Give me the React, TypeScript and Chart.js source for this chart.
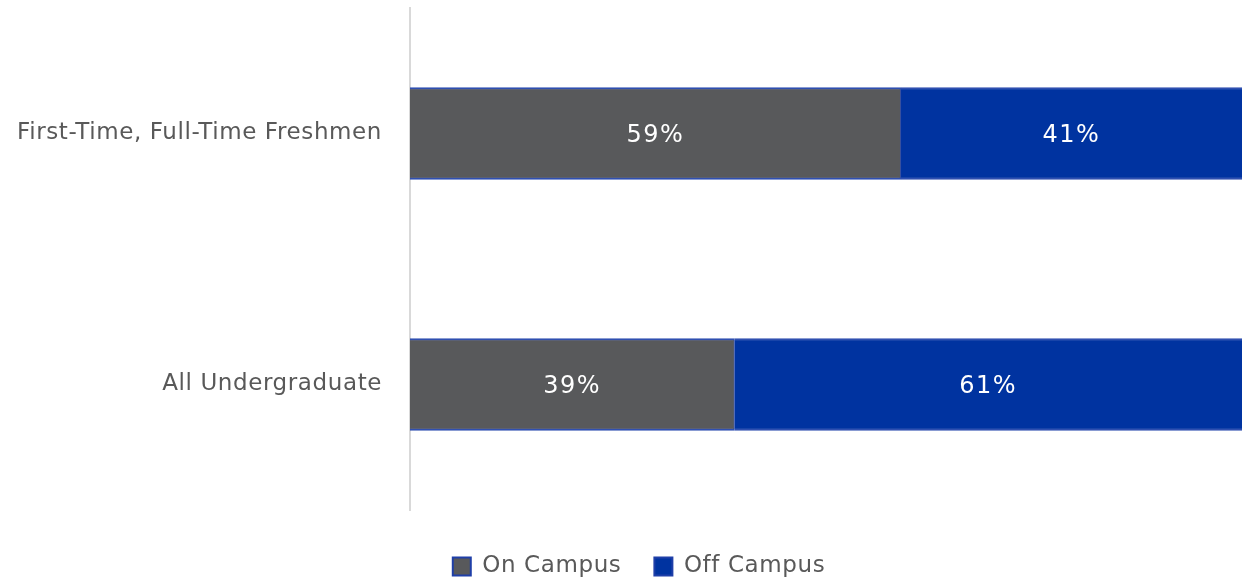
import React, { useEffect, useRef } from "react";
import { Chart, registerables } from "chart.js";

Chart.register(...registerables);

const categories = ["First-Time, Full-Time Freshmen", "All Undergraduate"];
const onCampus = [59, 39];
const offCampus = [41, 61];
const seriesNames = ["On Campus", "Off Campus"];

const FONT = "'DejaVu Sans', sans-serif";

const spacing = {
  id: "spacing",
  beforeLayout(chart: any) {
    (chart.ctx as any).letterSpacing = "0.6px";
  },
  afterLayout(chart: any) {
    chart.scales.y.left = 0;
  },
  beforeDraw(chart: any) {
    (chart.ctx as any).letterSpacing = "0.6px";
  },
};

const valueLabels = {
  id: "valueLabels",
  afterDatasetsDraw(chart: any) {
    const ctx = chart.ctx;
    ctx.save();
    ctx.letterSpacing = "1.5px";
    ctx.fillStyle = "#ffffff";
    ctx.font = `24px ${FONT}`;
    ctx.textAlign = "center";
    ctx.textBaseline = "middle";
    chart.data.datasets.forEach((ds: any, i: number) => {
      const meta = chart.getDatasetMeta(i);
      meta.data.forEach((bar: any, j: number) => {
        const x = (bar.x + bar.base) / 2;
        ctx.fillText(ds.data[j] + "%", x, bar.y + 2);
      });
    });
    ctx.restore();
  },
};

export default function App() {
  const ref = useRef<HTMLCanvasElement>(null);
  useEffect(() => {
    document.body.style.margin = "0";
    const chart = new Chart(ref.current!, {
      type: "bar",
      data: {
        labels: categories,
        datasets: [
          {
            label: seriesNames[0],
            data: onCampus,
            backgroundColor: "#58595B",
            borderColor: "#2F4FB0",
            borderWidth: { top: 2, bottom: 2, left: 0, right: 1 } as any,
            borderSkipped: false,
          },
          {
            label: seriesNames[1],
            data: offCampus,
            backgroundColor: "#0033A0",
            borderColor: "#2F4FB0",
            borderWidth: { top: 2, bottom: 2, left: 0, right: 0 } as any,
            borderSkipped: false,
          },
        ],
      },
      options: {
        indexAxis: "y",
        animation: false,
        responsive: true,
        maintainAspectRatio: false,
        layout: { padding: { top: 8, right: 0, bottom: -5, left: 36 } },
        datasets: { bar: { barThickness: 92 } } as any,
        scales: {
          x: {
            stacked: true,
            min: 0,
            max: 100,
            display: false,
          },
          y: {
            stacked: true,
            grid: { display: false },
            border: { display: true, color: "#D9D9D9", width: 2 },
            ticks: {
              color: "#595959",
              font: { family: FONT, size: 23 },
              padding: 20,
            },
            afterFit(scale: any) {
              scale.width = 374;
              scale.paddingTop = 0;
              scale.paddingBottom = 0;
            },
          },
        },
        plugins: {
          legend: {
            position: "bottom",
            title: {
              display: true,
              text: " ",
              font: { size: 8, lineHeight: 1.5 },
              padding: 0,
            },
            labels: {
              color: "#595959",
              font: { family: FONT, size: 23 },
              boxWidth: 18,
              boxHeight: 18,
              padding: 33,
              generateLabels(chart: any) {
                return chart.data.datasets.map((ds: any, i: number) => ({
                  text: ds.label,
                  fillStyle: ds.backgroundColor,
                  strokeStyle: "#1F3FA8",
                  lineWidth: 2,
                  fontColor: "#595959",
                  datasetIndex: i,
                  hidden: false,
                }));
              },
            },
          },
          tooltip: { enabled: false },
        },
      },
      plugins: [spacing, valueLabels],
    });
    return () => chart.destroy();
  }, []);
  return (
    <div style={{ position: "fixed", left: 0, top: 0, width: 1242, height: 583 }}>
      <canvas ref={ref} />
    </div>
  );
}
